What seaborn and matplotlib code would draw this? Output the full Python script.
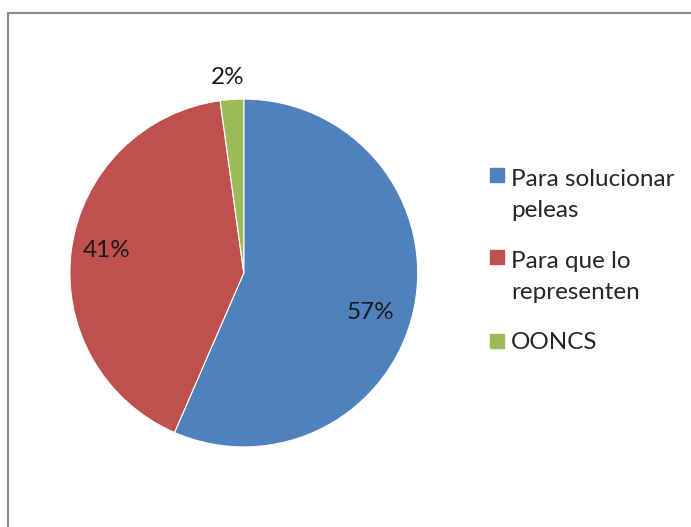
import matplotlib
matplotlib.use("Agg")
import matplotlib.pyplot as plt
from matplotlib.lines import Line2D
import numpy as np
import seaborn as sns

categories = ["Para solucionar\npeleas", "Para que lo\nrepresenten", "OONCS"]
counts = [26, 19, 1]
colors = ["#4F81BD", "#C0504D", "#9BBB59"]

sns.set_theme(style="white")
plt.rcParams['font.family'] = ['Lato', 'DejaVu Sans']

FS = 17.5
fig = plt.figure(figsize=(6.91, 5.27), dpi=100)
ax = fig.add_axes([0.101, 0.152, 0.5036, 0.660])

def fmt(p):
    return f"{int(p + 0.5)}%"

wedges, texts, autotexts = ax.pie(
    counts, colors=colors, startangle=90, counterclock=False,
    autopct=fmt, pctdistance=0.78, radius=1.0,
    wedgeprops=dict(edgecolor="white", linewidth=0.8),
    textprops=dict(fontsize=FS, color="#1a1a1a"))

# label placement (distance from centre, angular offset in degrees)
label_place = [(0.76, -5.5), (0.80, -1.3), (1.13, 0.8)]
for w, t, (d, off) in zip(wedges, autotexts, label_place):
    mid = np.deg2rad((w.theta1 + w.theta2) / 2 + off)
    t.set_position((d * np.cos(mid), d * np.sin(mid)))

ax.set_xlim(-1, 1)
ax.set_ylim(-1, 1)
ax.set_aspect("equal")
ax.axis("off")

handles = [Line2D([0], [0], marker='s', linestyle='none', markersize=9.4,
                  markerfacecolor=c, markeredgecolor=c) for c in colors]
leg = fig.legend(handles, categories, loc="upper left", bbox_to_anchor=(0.6946, 0.698),
                 frameon=False, fontsize=FS, handletextpad=0.29, handlelength=0.577,
                 labelspacing=1.2, borderaxespad=0)
LS = 1.62
for t in leg.get_texts():
    t.set_linespacing(LS)
# align marker with first line of multi-line labels
for h, lab in zip(leg.legend_handles, categories):
    n = lab.count("\n")
    if n:
        y = np.asarray(h.get_ydata(), dtype=float)
        h.set_ydata(y + n * FS * LS * 1.0 / 2)

# chart border (left and top visible)
fig.add_artist(Line2D([0.0123, 0.0123], [0.0, 0.975], color="#8c8c8c", lw=1.5, transform=fig.transFigure))
fig.add_artist(Line2D([0.0123, 1.0], [0.975, 0.975], color="#8c8c8c", lw=1.5, transform=fig.transFigure))

fig.savefig("out.png", dpi=100, facecolor="white")
